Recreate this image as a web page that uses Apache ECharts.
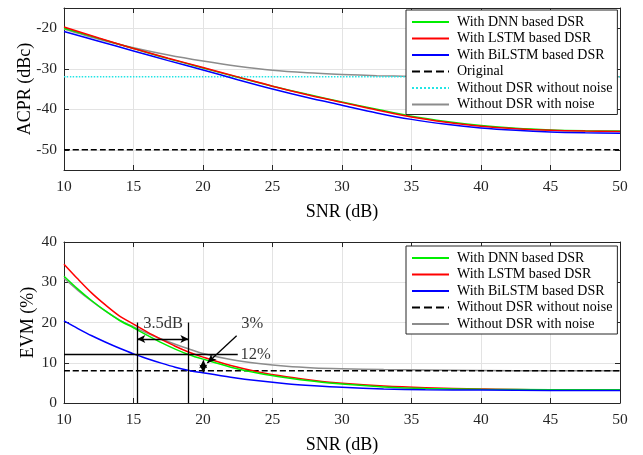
<!DOCTYPE html>
<html>
<head>
<meta charset="utf-8">
<script src="https://cdn.jsdelivr.net/npm/echarts@6/dist/echarts.min.js"></script>
<style>html,body{margin:0;padding:0;background:#fff}#c{width:643px;height:455px}</style>
</head>
<body>
<div id="c"></div>
<script>
// ---------- Top panel: ACPR ----------
const snrA = [10,12.5,15,17.5,20,22.5,25,27.5,30,32.5,35,37.5,40,42.5,45,47.5,50];
const acprDNN    = [-20.0,-22.5,-25.0,-27.5,-29.8,-32.1,-34.3,-36.3,-38.2,-40.0,-41.7,-43.0,-44.0,-44.7,-45.1,-45.3,-45.4];
const acprLSTM   = [-19.7,-22.4,-25.0,-27.4,-29.7,-32.0,-34.3,-36.4,-38.3,-40.2,-41.9,-43.2,-44.2,-44.8,-45.2,-45.4,-45.5];
const acprBiLSTM = [-20.8,-23.2,-25.6,-28.0,-30.3,-32.7,-35.0,-37.1,-39.0,-40.9,-42.5,-43.7,-44.6,-45.2,-45.6,-45.8,-45.9];
const acprNoise  = [-20.2,-22.7,-24.8,-26.6,-28.1,-29.4,-30.4,-31.0,-31.4,-31.7,-31.9,-32.0,-32.0,-32.0,-32.0,-32.0,-32.0];
const acprOriginal = -50;
const acprNoNoise  = -32;

// ---------- Bottom panel: EVM ----------
const snrE = [10,11,12,13,14,15,16,17,18,19,20,22,24,26,28,30,33,36,40,45,50];
const evmDNN    = [31.5,28.3,25.4,22.8,20.5,18.7,16.8,15.0,13.4,12.0,10.9,8.9,7.4,6.3,5.4,4.7,4.0,3.6,3.4,3.3,3.3];
const evmLSTM   = [34.5,30.8,27.3,24.3,21.6,19.6,17.6,15.8,14.1,12.6,11.4,9.3,7.7,6.5,5.6,4.9,4.2,3.8,3.5,3.3,3.3];
const evmBiLSTM = [20.4,18.5,16.7,15.1,13.6,12.2,11.0,9.9,8.9,8.1,7.5,6.4,5.5,4.8,4.3,3.9,3.5,3.3,3.2,3.1,3.1];
const evmNoise  = [31.0,28.0,25.3,22.8,20.6,18.9,17.3,15.9,14.6,13.4,12.3,10.8,9.8,9.1,8.7,8.5,8.3,8.2,8.1,8.0,8.0];
const evmNoNoise = 8;

// ---------- Annotations (data coordinates) ----------
const vLine1 = [[15.27,20.0],[15.27,0]];
const vLine2 = [[18.95,20.0],[18.95,0]];
const hLine12 = [[10,12.2],[22.5,12.2]];
const dbArrow = [[15.27,15.9],[18.95,15.9]];
const pctArrow = [[20.02,10.6],[20.02,7.6]];
const pointer = [[22.42,16.7],[20.31,9.95]];
const annotText = ['3.5dB','12%','3%'];
const annotX = [15.7,22.7,22.75];
const annotY = [19.6,12.0,19.6];

const xTicks = {min:10,max:50,interval:5};
const FONT = "'Liberation Serif','Times New Roman',serif";
const AX = '#262626';

const names = ['With DNN based DSR','With LSTM based DSR','With BiLSTM based DSR','Original','Without DSR without noise','Without DSR with noise'];
const namesB = ['With DNN based DSR ','With LSTM based DSR ','With BiLSTM based DSR ','Without DSR without noise ','Without DSR with noise '];

const zip = (xs, ys) => xs.map((x,i)=>[x, ys[i]]);
const flat = (xs, v) => [[xs[0], v],[xs[xs.length-1], v]];

function line(name, data, color, type, xi, yi, z){
  return {name, type:'line', data, xAxisIndex:xi, yAxisIndex:yi, symbol:'none', showSymbol:false,
    smooth:0.3, lineStyle:{color, width:1.5, type}, itemStyle:{color}, z:z||2, animation:false, silent:true};
}

function mainX(gi){
  return {type:'value', gridIndex:gi, position:'bottom', ...xTicks,
    name:'SNR (dB)', nameLocation:'middle', nameGap:33,
    nameTextStyle:{fontFamily:FONT, fontSize:18, color:'#000'},
    axisLine:{show:true, onZero:false, lineStyle:{color:AX, width:1}},
    axisTick:{show:true, inside:true, length:5, lineStyle:{color:AX}},
    axisLabel:{fontFamily:FONT, fontSize:15.5, color:AX, margin:9},
    splitLine:{show:true, lineStyle:{color:'#e3e3e3', width:1}}};
}
function boxX(gi){
  return {type:'value', gridIndex:gi, position:'top', ...xTicks,
    axisLine:{show:true, onZero:false, lineStyle:{color:AX}},
    axisTick:{show:true, inside:true, length:5, lineStyle:{color:AX}},
    axisLabel:{show:false}, splitLine:{show:false}};
}
function mainY(gi, name, nameGap, extra){
  return Object.assign({type:'value', gridIndex:gi, position:'left',
    name, nameLocation:'middle', nameGap, nameMoveOverlap:false,
    nameTextStyle:{fontFamily:FONT, fontSize:18, color:'#000'},
    axisLine:{show:true, onZero:false, lineStyle:{color:AX}},
    axisTick:{show:true, inside:true, length:5, lineStyle:{color:AX}},
    axisLabel:{fontFamily:FONT, fontSize:15.5, color:AX, margin:7},
    splitLine:{show:true, lineStyle:{color:'#e3e3e3', width:1}}}, extra);
}
function boxY(gi, extra){
  return Object.assign({type:'value', gridIndex:gi, position:'right',
    axisLine:{show:true, onZero:false, lineStyle:{color:AX}},
    axisTick:{show:true, inside:true, length:5, lineStyle:{color:AX}},
    axisLabel:{show:false}, splitLine:{show:false}}, extra);
}
const yTop = {min:-55, max:-15, splitNumber:4, axisLabel:{fontFamily:FONT, fontSize:15.5, color:AX, margin:7, showMinLabel:false, showMaxLabel:false}};
const yBot = {min:0, max:40, interval:10};

function legend(data, top){
  return {orient:'vertical', left:406, top, data, width:200,
    backgroundColor:'#fff', borderColor:AX, borderWidth:1, padding:[4,5,2,5],
    itemWidth:37, itemHeight:12, itemGap:0.5, selectedMode:false,
    itemStyle:{opacity:0, borderWidth:0},
    formatter: n => n.trim(),
    textStyle:{fontFamily:FONT, fontSize:14, color:'#000', lineHeight:16, padding:[0,0,0,3]}};
}

function mkLine(pairs, sym, symSize){
  return {type:'line', data:[], xAxisIndex:2, yAxisIndex:2, silent:true, animation:false,
    markLine:{silent:true, animation:false, symbol:sym, symbolSize:symSize,
      label:{show:false}, lineStyle:{color:'#000', width:1.3, type:'solid'},
      emphasis:{disabled:true},
      data: pairs.map(p => [{coord:p[0]},{coord:p[1]}])}};
}

const series = [
  line(names[5], zip(snrA, acprNoise), '#8c8c8c', 'solid', 0, 0, 2),
  line(names[4], flat(snrA, acprNoNoise), '#22e5e5', 'dotted', 0, 0, 2),
  line(names[3], flat(snrA, acprOriginal), '#000', 'dashed', 0, 0, 2),
  line(names[0], zip(snrA, acprDNN), '#00ee00', 'solid', 0, 0, 3),
  line(names[1], zip(snrA, acprLSTM), '#ff0000', 'solid', 0, 0, 3),
  line(names[2], zip(snrA, acprBiLSTM), '#0000ff', 'solid', 0, 0, 3),

  line(namesB[4], zip(snrE, evmNoise), '#8c8c8c', 'solid', 2, 2, 2),
  line(namesB[3], flat(snrE, evmNoNoise), '#000', 'dashed', 2, 2, 2),
  line(namesB[1], zip(snrE, evmLSTM), '#ff0000', 'solid', 2, 2, 3),
  line(namesB[0], zip(snrE, evmDNN), '#00ee00', 'solid', 2, 2, 3),
  line(namesB[2], zip(snrE, evmBiLSTM), '#0000ff', 'solid', 2, 2, 3),

  mkLine([vLine1, vLine2, hLine12], ['none','none'], 0),
  mkLine([dbArrow, pctArrow], ['arrow','arrow'], [6,8]),
  mkLine([pointer], ['none','arrow'], [6,9]),
  {type:'scatter', xAxisIndex:2, yAxisIndex:2, symbolSize:0, silent:true, animation:false,
    data: annotText.map((t,i)=>({value:[annotX[i], annotY[i]], name:t})),
    label:{show:true, position:'right', distance:0, formatter: p => p.name,
      fontFamily:FONT, fontSize:16.5, color:'#000'}}
];

const chart = echarts.init(document.getElementById('c'), null, {renderer:'canvas'});
chart.setOption({
  backgroundColor:'#fff',
  animation:false,
  grid:[
    {left:64, right:23, top:8, height:162},
    {left:64, right:23, top:242, height:162}
  ],
  xAxis:[mainX(0), boxX(0), mainX(1), boxX(1)],
  yAxis:[mainY(0,'ACPR (dBc)', 30, yTop), boxY(0, {min:-55,max:-15,splitNumber:4}),
         mainY(1,'EVM (%)', 27, yBot), boxY(1, yBot)],
  legend:[legend(names, 10), legend(namesB, 246)],
  series
});
</script>
</body>
</html>
